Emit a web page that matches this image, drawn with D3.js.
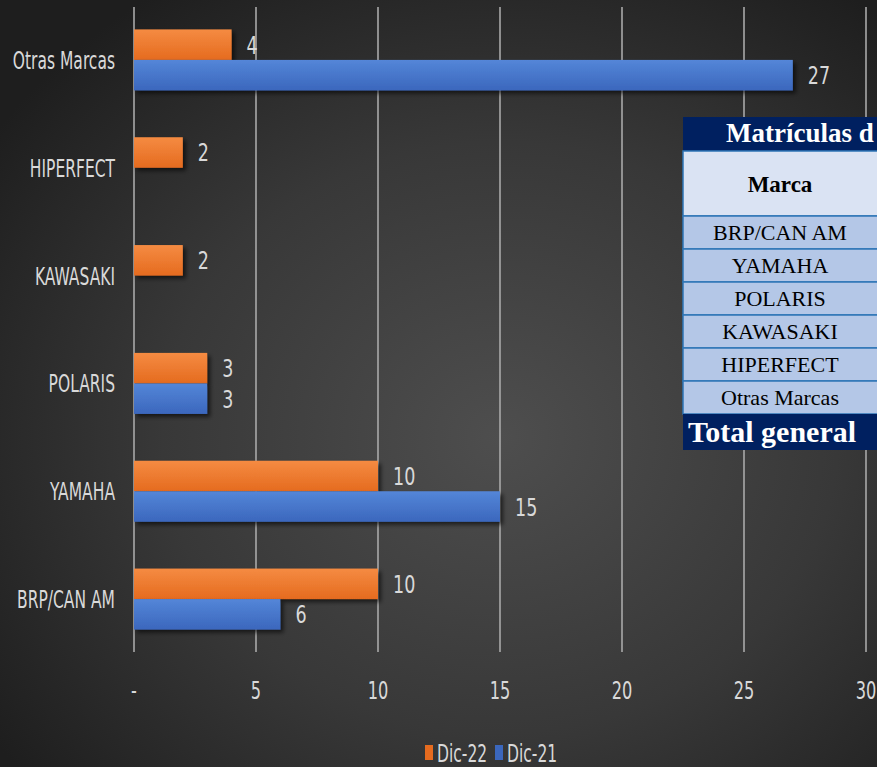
<!DOCTYPE html>
<html><head><meta charset="utf-8">
<script src="https://cdn.jsdelivr.net/npm/d3@7/dist/d3.min.js"></script>
<style>html,body{margin:0;padding:0;background:#2a2a2a;}svg{display:block;}</style>
</head><body><svg id="c" width="877" height="767"></svg>
<script>
const categories = ["Otras Marcas","HIPERFECT","KAWASAKI","POLARIS","YAMAHA","BRP/CAN AM"];
const seriesNames = ["Dic-22","Dic-21"];
const dic22 = [4, 2, 2, 3, 10, 10];
const dic21 = [27, null, null, 3, 15, 6];
const xTicks = [0,5,10,15,20,25,30];
const tableTitle = "Matrículas d";
const tableHeader = "Marca";
const tableBrands = ["BRP/CAN AM","YAMAHA","POLARIS","KAWASAKI","HIPERFECT","Otras Marcas"];
const tableTotal = "Total general";

const svg = d3.select("#c");
const W = 877, H = 767;
const defs = svg.append("defs");
const rg = defs.append("radialGradient").attr("id","bg").attr("cx","57%").attr("cy","57%").attr("r","70%");
rg.append("stop").attr("offset","0%").attr("stop-color","#4e4e4e");
rg.append("stop").attr("offset","55%").attr("stop-color","#383838");
rg.append("stop").attr("offset","100%").attr("stop-color","#1e1e1e");
const colors = {"Dic-22":["#f58b42","#e56b1f"],"Dic-21":["#5486d8","#3b67bd"]};
seriesNames.forEach((s,i)=>{
  const g = defs.append("linearGradient").attr("id","g"+i).attr("x1",0).attr("y1",0).attr("x2",0).attr("y2",1);
  g.append("stop").attr("offset","0%").attr("stop-color",colors[s][0]);
  g.append("stop").attr("offset","100%").attr("stop-color",colors[s][1]);
});
const f = defs.append("filter").attr("id","sh").attr("x","-10%").attr("y","-20%").attr("width","130%").attr("height","160%");
f.append("feDropShadow").attr("dx",3).attr("dy",3).attr("stdDeviation",2).attr("flood-color","#000").attr("flood-opacity",0.6);

svg.append("rect").attr("width",W).attr("height",H).attr("fill","url(#bg)");

const x = d3.scaleLinear().domain([0,30]).range([134,866]);
const y = d3.scaleBand().domain(categories).range([6,653]).padding(0);
const yi = d3.scaleBand().domain(seriesNames).range([0,y.bandwidth()]).paddingInner(0).paddingOuter(0.767);

// gridlines
svg.append("g").selectAll("line").data(xTicks).join("line")
  .attr("x1",d=>x(d)).attr("x2",d=>x(d)).attr("y1",7).attr("y2",652)
  .attr("stroke","#a9a9a9").attr("stroke-width",1.6);

const txtFont = "'Liberation Sans Narrow','Arial Narrow','DejaVu Sans Condensed',sans-serif";
const txtCol = "#d9d9d9";

// tick labels
svg.append("g").selectAll("text").data(xTicks).join("text")
  .attr("transform",d=>`translate(${x(d)},699) scale(0.75,1)`)
  .attr("text-anchor","middle").attr("font-family",txtFont).attr("font-size",24).attr("fill",txtCol)
  .text(d=>d===0?"-":d3.format("d")(d));

// category labels
svg.append("g").selectAll("text").data(categories).join("text")
  .attr("transform",d=>`translate(115,${y(d)+y.bandwidth()/2+9}) scale(0.69,1)`)
  .attr("text-anchor","end").attr("font-family",txtFont).attr("font-size",25).attr("fill",txtCol)
  .text(d=>d);

// bars
const data = [];
categories.forEach((c,i)=>{
  [dic22[i],dic21[i]].forEach((v,j)=>{ if(v!=null) data.push({c,s:seriesNames[j],v,j}); });
});
const bars = svg.append("g");
bars.selectAll("rect").data(data).join("rect")
  .attr("x",x(0)).attr("y",d=>y(d.c)+yi(d.s)).attr("width",d=>x(d.v)-x(0)).attr("height",yi.bandwidth())
  .attr("fill",d=>`url(#g${d.j})`).attr("filter","url(#sh)");
bars.selectAll("text").data(data).join("text")
  .attr("transform",d=>`translate(${x(d.v)+15},${y(d.c)+yi(d.s)+yi.bandwidth()/2+9}) scale(0.78,1)`)
  .attr("font-family",txtFont).attr("font-size",25).attr("fill",txtCol)
  .text(d=>d.v);

// legend
const lg = svg.append("g");
const lx = [425,495];
seriesNames.forEach((s,i)=>{
  lg.append("rect").attr("x",lx[i]).attr("y",745).attr("width",8).attr("height",15).attr("fill",colors[s][1]);
  lg.append("text").attr("transform",`translate(${lx[i]+12},762) scale(0.72,1)`)
    .attr("font-family",txtFont).attr("font-size",24).attr("fill",txtCol).text(s);
});

// table
const serif = "'Liberation Serif','Times New Roman',serif";
const t = svg.append("g");
const tx = 683, tw = 200;
t.append("rect").attr("x",tx).attr("y",117).attr("width",tw).attr("height",34).attr("fill","#002060");
t.append("text").attr("x",726).attr("y",142).attr("font-family",serif).attr("font-weight","bold").attr("font-size",27).attr("fill","#fff").text(tableTitle);
t.append("rect").attr("x",tx).attr("y",151).attr("width",tw).attr("height",65).attr("fill","#dae3f3").attr("stroke","#2e75b6").attr("stroke-width",1.5);
t.append("text").attr("x",780).attr("y",192).attr("text-anchor","middle").attr("font-family",serif).attr("font-weight","bold").attr("font-size",23).attr("fill","#000").text(tableHeader);
tableBrands.forEach((b,i)=>{
  const ry = 216 + i*33;
  t.append("rect").attr("x",tx).attr("y",ry).attr("width",tw).attr("height",33).attr("fill","#b4c7e7").attr("stroke","#2e75b6").attr("stroke-width",1.5);
  t.append("text").attr("x",780).attr("y",ry+24).attr("text-anchor","middle").attr("font-family",serif).attr("font-size",22).attr("fill","#000").text(b);
});
t.append("rect").attr("x",tx).attr("y",414).attr("width",tw).attr("height",36).attr("fill","#002060");
t.append("text").attr("x",688).attr("y",442).attr("font-family",serif).attr("font-weight","bold").attr("font-size",30).attr("fill","#fff").text(tableTotal);
</script></body></html>
